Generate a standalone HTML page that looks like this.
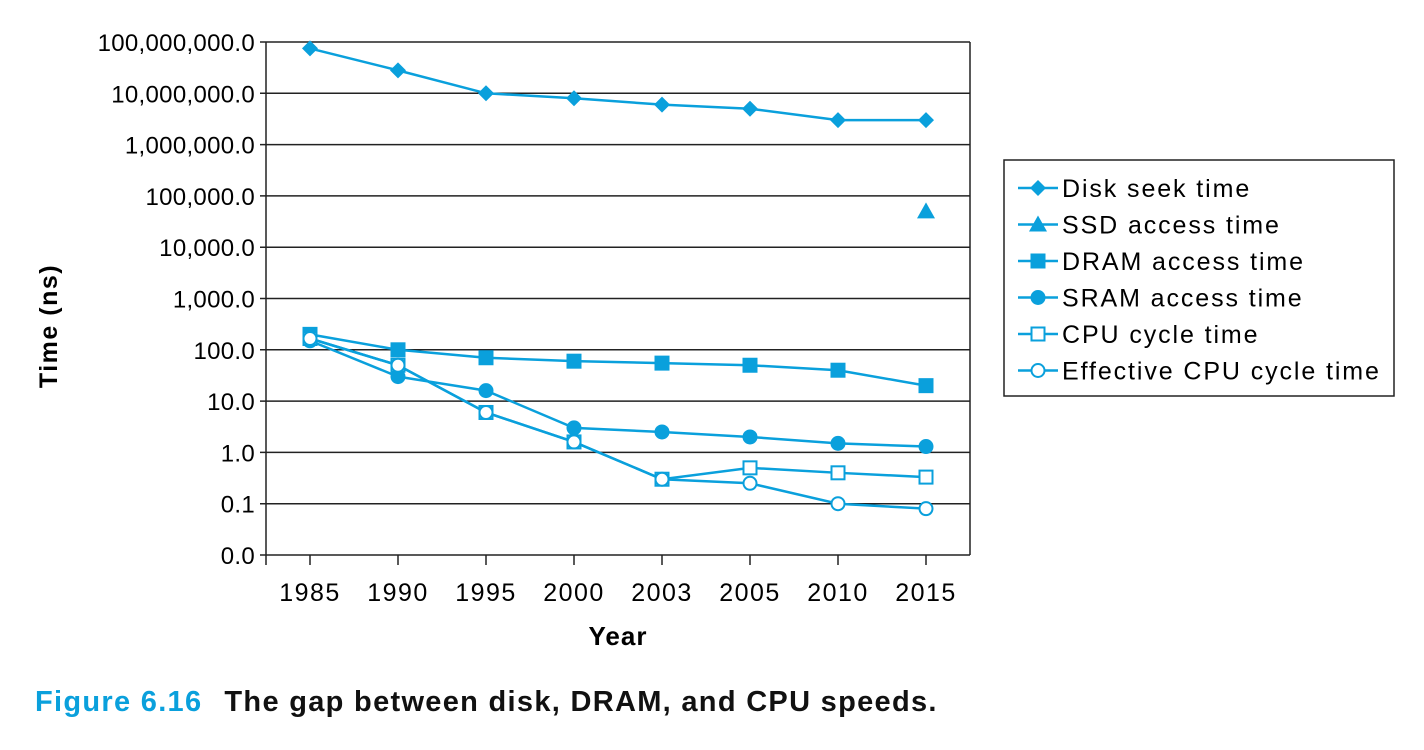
<!DOCTYPE html>
<html><head><meta charset="utf-8"><style>
body{margin:0;background:#fff;}
svg{display:block;font-family:"Liberation Sans",Arial,sans-serif;}
</style></head><body>
<svg width="1424" height="750" viewBox="0 0 1424 750">
<g id="grid"></g>
<g id="series"></g>
<text x="0" y="0" transform="translate(57,326) rotate(-90)" text-anchor="middle" font-size="25" font-weight="bold" letter-spacing="1.5">Time (ns)</text>
<text x="618" y="645" text-anchor="middle" font-size="26" font-weight="bold" letter-spacing="1">Year</text>
<g>
<rect x="1004" y="160" width="390" height="236" fill="#fff" stroke="#222" stroke-width="1.5"/>
<g id="legend"></g>
</g>
<text x="35" y="711" font-size="29" font-weight="bold" letter-spacing="1.3"><tspan fill="#0aa0dc">Figure 6.16</tspan><tspan dx="22" fill="#111">The gap between disk, DRAM, and CPU speeds.</tspan></text>
</svg>
<script>
const years = ["1985","1990","1995","2000","2003","2005","2010","2015"];
const yTicks = ["0.0","0.1","1.0","10.0","100.0","1,000.0","10,000.0","100,000.0","1,000,000.0","10,000,000.0","100,000,000.0"];
const diskSeek = [75000000,28000000,10000000,8000000,6000000,5000000,3000000,3000000];
const ssdAccess = [null,null,null,null,null,null,null,50000];
const dramAccess = [200,100,70,60,55,50,40,20];
const sramAccess = [150,30,16,3,2.5,2,1.5,1.3];
const cpuCycle = [166,50,6,1.6,0.30,0.50,0.4,0.33];
const effCpuCycle = [166,50,6,1.6,0.30,0.25,0.10,0.08];
const seriesNames = ["Disk seek time","SSD access time","DRAM access time","SRAM access time","CPU cycle time","Effective CPU cycle time"];

const NS="http://www.w3.org/2000/svg", C="#0aa0dc";
const L=266,R=970,T=42,B=555;
const xs=i=>L+44+i*88;
const ys=v=>B-(Math.log10(v)+2)*(B-T)/10;
function mk(tag,a,p){const e=document.createElementNS(NS,tag);for(const k in a)e.setAttribute(k,a[k]);p.appendChild(e);return e;}
const g=document.getElementById('grid');
yTicks.forEach((t,i)=>{const y=B-i*(B-T)/10;
 const ln=mk('line',{x1:260,x2:R,y1:y,y2:y,stroke:'#222','stroke-width':1.5},g);
 
 
 const tx=mk('text',{x:255,y:y+9,'text-anchor':'end','font-size':24,'letter-spacing':0.3},g);tx.textContent=t;
 
 
});
let ax=mk('line',{x1:L,x2:L,y1:T,y2:B+10,stroke:'#222','stroke-width':1.5},g);


let rb=mk('line',{x1:R,x2:R,y1:T,y2:B,stroke:'#222','stroke-width':1.5},g);


years.forEach((yr,i)=>{const x=xs(i);
 const tk=mk('line',{x1:x,x2:x,y1:B,y2:B+10,stroke:'#222','stroke-width':1.5},g);
 
 
 const tx=mk('text',{x:x,y:601,'text-anchor':'middle','font-size':25,'letter-spacing':1.5},g);tx.textContent=yr;
 
 
});
function marker(type,x,y,p){let e;
 if(type==0)e=mk('polygon',{points:`${x},${y-8} ${x+8},${y} ${x},${y+8} ${x-8},${y}`,fill:C},p);
 else if(type==1)e=mk('polygon',{points:`${x},${y-9} ${x+9},${y+7} ${x-9},${y+7}`,fill:C},p);
 else if(type==2)e=mk('rect',{x:x-7.5,y:y-7.5,width:15,height:15,fill:C},p);
 else if(type==3)e=mk('circle',{cx:x,cy:y,r:7.5,fill:C},p);
 else if(type==4)e=mk('rect',{x:x-6.5,y:y-6.5,width:13,height:13,fill:'#fff',stroke:C,'stroke-width':2},p);
 else e=mk('circle',{cx:x,cy:y,r:6.5,fill:'#fff',stroke:C,'stroke-width':2},p);
 return e;}
const s=document.getElementById('series');
[diskSeek,ssdAccess,dramAccess,sramAccess,cpuCycle,effCpuCycle].forEach((arr,k)=>{
 const grp=mk('g',{},s);
 
 
 const pts=[];arr.forEach((v,i)=>{if(v!=null)pts.push([xs(i),ys(v)]);});
 if(pts.length>1){const pl=mk('polyline',{points:pts.map(p=>p.join(',')).join(' '),fill:'none',stroke:C,'stroke-width':2.5},grp);
  
  }
 pts.forEach(p=>{const m=marker(k,p[0],p[1],grp);
  
  });
});
const lg=document.getElementById('legend');
seriesNames.forEach((n,k)=>{const y=188+k*36.5;
 const ln=mk('line',{x1:1018,x2:1058,y1:y,y2:y,stroke:C,'stroke-width':2.5},lg);
 
 
 const m=marker(k,1038,y,lg);
 
 
 const t=mk('text',{x:1062,y:y+9,'font-size':25,'letter-spacing':1.9},lg);t.textContent=n;
 
 
});
</script>
</body></html>
